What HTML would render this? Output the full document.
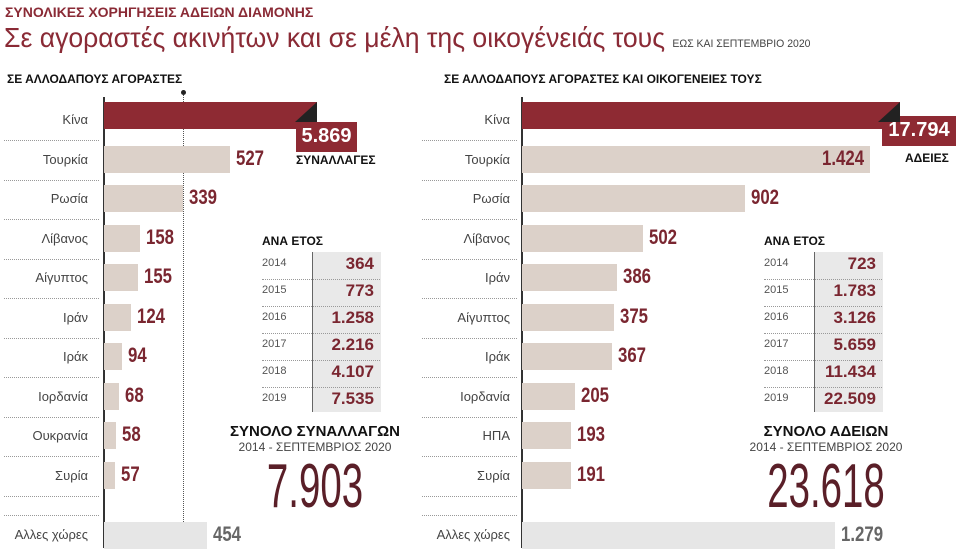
<!DOCTYPE html>
<html><head><meta charset="utf-8"><style>
body{margin:0;width:956px;height:548px;background:#fff;position:relative;overflow:hidden;font-family:"Liberation Sans","DejaVu Sans",sans-serif}
.a{position:absolute;white-space:nowrap}
.n{font-family:"Liberation Sans Narrow","Liberation Sans",sans-serif;font-weight:bold;color:#7a2630;font-size:21px;transform:scaleX(.8);transform-origin:left center}
.lbl{font-size:13px;color:#444;text-align:right;width:90px}
.bar{position:absolute;background:#dcd1c9;height:27px}
.sep{position:absolute;border-top:1px dotted #999;height:0}
.yr{font-size:11px;color:#555}
.tv{font-family:"Liberation Sans Narrow","Liberation Sans",sans-serif;font-weight:bold;color:#7a2630;font-size:17px;text-align:right;width:60px}
</style></head><body>
<div class="a" style="left:5px;top:4px;font-size:14px;font-weight:bold;color:#8a2a35">ΣΥΝΟΛΙΚΕΣ ΧΟΡΗΓΗΣΕΙΣ ΑΔΕΙΩΝ ΔΙΑΜΟΝΗΣ</div>
<div class="a" style="left:4px;top:22px;font-size:28px;color:#8a2a35;transform:scaleX(.95);transform-origin:left">Σε αγοραστές ακινήτων και σε μέλη της οικογένειάς τους <span style="font-size:11px;color:#444">ΕΩΣ ΚΑΙ ΣΕΠΤΕΜΒΡΙΟ 2020</span></div>
<div class="a" style="left:7px;top:72px;font-size:12px;font-weight:bold;color:#111">ΣΕ ΑΛΛΟΔΑΠΟΥΣ ΑΓΟΡΑΣΤΕΣ</div>
<div class="a" style="left:444px;top:72px;font-size:12px;font-weight:bold;color:#111">ΣΕ ΑΛΛΟΔΑΠΟΥΣ ΑΓΟΡΑΣΤΕΣ ΚΑΙ ΟΙΚΟΓΕΝΕΙΕΣ ΤΟΥΣ</div>
<div id="c"></div>
<script>
var c=document.getElementById('c'),h='';
function A(s){h+=s}
var L=[['Κίνα',317,'5.869'],['Τουρκία',230,'527'],['Ρωσία',183,'339'],['Λίβανος',140,'158'],['Αίγυπτος',138,'155'],['Ιράν',131,'124'],['Ιράκ',122,'94'],['Ιορδανία',119,'68'],['Ουκρανία',116,'58'],['Συρία',115,'57']];
var R=[['Κίνα',900,'17.794'],['Τουρκία',870,'1.424'],['Ρωσία',745,'902'],['Λίβανος',643,'502'],['Ιράν',617,'386'],['Αίγυπτος',614,'375'],['Ιράκ',612,'367'],['Ιορδανία',575,'205'],['ΗΠΑ',571,'193'],['Συρία',571,'191']];
function side(D,x0,lx,dot,oEnd,oVal,unit){
 A('<div class="a" style="left:'+(x0-1)+'px;top:97px;width:2px;height:451px;background:#333"></div>');
 if(dot){A('<div class="a" style="left:'+dot+'px;top:95px;height:453px;border-left:1px dotted #555"></div><div class="a" style="left:'+(dot-2)+'px;top:90px;width:5px;height:5px;border-radius:3px;background:#222"></div>');}
 D.forEach(function(d,i){var y=120+i*39.5;
  A('<div class="a lbl" style="left:'+(lx-90)+'px;top:'+(y-8)+'px">'+d[0]+'</div>');
  A('<div class="sep" style="left:'+(x0-100)+'px;width:95px;top:'+(y+20)+'px"></div>');
  if(i==0){A('<div class="bar" style="left:'+x0+'px;top:102px;width:'+(d[1]-x0)+'px;background:#8e2a33"></div>');
   var bl=D==L?296:882, bw=D==L?61:74, bt=D==L?122:116;
   A('<div class="a" style="left:'+bl+'px;top:'+bt+'px;width:'+bw+'px;height:30px;background:#8e2a33"></div>');
   A('<div class="a" style="left:'+bl+'px;top:'+(bt+3)+'px;width:'+bw+'px;text-align:center;color:#fff;font-weight:bold;font-size:20px">'+d[2]+'</div>');
   A('<div class="a" style="left:'+(d[1]-22)+'px;top:102px;width:0;height:0;border-left:22px solid transparent;border-bottom:20px solid #222"></div>');
   A('<div class="a" style="left:'+(D==L?296:905)+'px;top:'+(D==L?153:151)+'px;font-size:12px;font-weight:bold;color:#111">'+unit+'</div>');
  }else{A('<div class="bar" style="left:'+x0+'px;top:'+(y-14)+'px;width:'+(d[1]-x0)+'px"></div>');
   var vx=(D==R&&i==1)?d[1]-48:d[1]+6;
   A('<div class="a n" style="left:'+vx+'px;top:'+(y-13)+'px">'+d[2]+'</div>');}
 });
 A('<div class="sep" style="left:'+(x0-100)+'px;width:95px;top:515px"></div>');
 A('<div class="a lbl" style="left:'+(lx-90)+'px;top:527px">Αλλες χώρες</div>');
 A('<div class="bar" style="left:'+x0+'px;top:522px;width:'+(oEnd-x0)+'px;background:#e6e6e6"></div>');
 A('<div class="a n" style="left:'+(oEnd+6)+'px;top:523px;color:#666">'+oVal+'</div>');
}
side(L,104,88,183,207,'454','ΣΥΝΑΛΛΑΓΕΣ');
side(R,522,510,0,835,'1.279','ΑΔΕΙΕΣ');
function tab(x,vals){
 A('<div class="a" style="left:'+x+'px;top:234px;font-size:12px;font-weight:bold;color:#111">ΑΝΑ ΕΤΟΣ</div>');
 A('<div class="a" style="left:'+(x+51)+'px;top:252px;width:68px;height:160px;background:#e9e9e9"></div>');
 A('<div class="a" style="left:'+(x+50)+'px;top:252px;width:1px;height:160px;background:#666"></div>');
 vals.forEach(function(v,i){var y=253+i*27;
  A('<div class="a yr" style="left:'+x+'px;top:'+(y+4)+'px">'+(2014+i)+'</div>');
  A('<div class="a tv" style="left:'+(x+52)+'px;top:'+(y+1)+'px">'+v+'</div>');
  if(i<5)A('<div class="sep" style="left:'+x+'px;width:118px;top:'+(y+26)+'px"></div>');});
}
tab(262,['364','773','1.258','2.216','4.107','7.535']);
tab(764,['723','1.783','3.126','5.659','11.434','22.509']);
function tot(cx,t,n){
 A('<div class="a" style="left:'+(cx-110)+'px;width:220px;text-align:center;top:423px;font-size:15px;font-weight:bold;color:#111">'+t+'</div>');
 A('<div class="a" style="left:'+(cx-110)+'px;width:220px;text-align:center;top:440px;font-size:12px;color:#444">2014 - ΣΕΠΤΕΜΒΡΙΟΣ 2020</div>');
 A('<div class="a" style="left:'+(cx-110)+'px;width:220px;text-align:center;top:452px;font-size:62px;line-height:70px;color:#5a1f28;transform:scaleX(.62);transform-origin:center">'+n+'</div>');
}
tot(315,'ΣΥΝΟΛΟ ΣΥΝΑΛΛΑΓΩΝ','7.903');
tot(826,'ΣΥΝΟΛΟ ΑΔΕΙΩΝ','23.618');
c.innerHTML=h;
</script>
</body></html>
